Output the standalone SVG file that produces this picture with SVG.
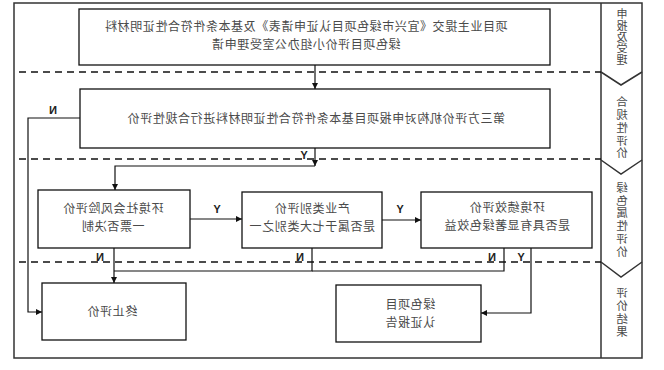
<svg xmlns="http://www.w3.org/2000/svg" width="664" height="370" viewBox="0 0 664 370">
<style>
.frame{fill:none;stroke:#333;stroke-width:1.5}
.box{fill:#fff;stroke:#111;stroke-width:1.3}
.dash{fill:none;stroke:#111;stroke-width:1.6;stroke-dasharray:7 5}
.con{fill:none;stroke:#111;stroke-width:1.2}
.t{font-family:"Noto Sans CJK SC","Noto Sans",sans-serif;font-size:12px;letter-spacing:0.6px;fill:#4a4a4a;text-anchor:middle}
.s{font-family:"Noto Sans CJK SC","Noto Sans",sans-serif;font-size:11.5px;fill:#4a4a4a;text-anchor:middle;writing-mode:vertical-rl;letter-spacing:1.3px}
.l{font-family:"Liberation Sans",Arial,sans-serif;font-size:11px;font-weight:bold;fill:#222;text-anchor:middle}
</style>
<defs>
<marker id="ah" viewBox="0 0 6 6" refX="6" refY="3" markerWidth="6" markerHeight="6" markerUnits="userSpaceOnUse" orient="auto">
<path d="M0,0 L6,3 L0,6 Z" fill="#111"/>
</marker>
</defs>
<g id="frame">
<rect class="frame" x="14" y="3" width="628" height="355"/>
<line class="frame" x1="601" y1="3" x2="601" y2="358"/>
<polyline class="frame" points="601,72 621,85 642,72"/>
<polyline class="frame" points="601,160 621,174 642,160"/>
<polyline class="frame" points="601,262 621,277 642,262"/>
<line class="dash" x1="19" y1="72" x2="601" y2="72"/>
<line class="dash" x1="19" y1="159" x2="601" y2="159"/>
<line class="dash" x1="19" y1="262" x2="601" y2="262"/>
</g>
<g id="stages">
<g transform="matrix(-1 0 0 1 1244 0)"><text class="s" x="622" y="37" style="font-size:11px;letter-spacing:0.3px">申报及受理</text></g>
<g transform="matrix(-1 0 0 1 1244 0)"><text class="s" x="622" y="128">合规性评价</text></g>
<g transform="matrix(-1 0 0 1 1244 0)"><text class="s" x="622" y="220">绿色属性评价</text></g>
<g transform="matrix(-1 0 0 1 1244 0)"><text class="s" x="622" y="313" style="letter-spacing:1.8px">评价结果</text></g>
</g>
<g id="connectors">
<line class="con" x1="315" y1="65" x2="315" y2="89" marker-end="url(#ah)"/>
<line class="con" x1="315" y1="148" x2="315" y2="166" marker-end="url(#ah)"/>
<polyline class="con" points="315,166 115,166 115,190" marker-end="url(#ah)"/>
<polyline class="con" points="80,118 28,118 28,312 42,312" marker-end="url(#ah)"/>
<line class="con" x1="190" y1="219" x2="242" y2="219" marker-end="url(#ah)"/>
<line class="con" x1="382" y1="220" x2="421" y2="220" marker-end="url(#ah)"/>
<line class="con" x1="114" y1="248" x2="114" y2="283" marker-end="url(#ah)"/>
<polyline class="con" points="312,248 312,271 114,271"/>
<polyline class="con" points="504,248 504,271 312,271"/>
<polyline class="con" points="531,248 531,313 481,313" marker-end="url(#ah)"/>
<g transform="matrix(-1 0 0 1 608 0)"><text class="l" x="304" y="159">Y</text></g>
<g transform="matrix(-1 0 0 1 106 0)"><text class="l" x="53" y="114">N</text></g>
<g transform="matrix(-1 0 0 1 434 0)"><text class="l" x="217" y="213">Y</text></g>
<g transform="matrix(-1 0 0 1 800 0)"><text class="l" x="400" y="213">Y</text></g>
<g transform="matrix(-1 0 0 1 200 0)"><text class="l" x="100" y="261">N</text></g>
<g transform="matrix(-1 0 0 1 600 0)"><text class="l" x="300" y="261">N</text></g>
<g transform="matrix(-1 0 0 1 984 0)"><text class="l" x="492" y="261">N</text></g>
<g transform="matrix(-1 0 0 1 1042 0)"><text class="l" x="521" y="261">Y</text></g>
</g>
<g id="n1">
<rect class="box" x="79" y="9" width="471" height="56"/>
<g transform="matrix(-1 0 0 1 612 0)"><text class="t" x="306" y="31">项目业主提交《宜兴市绿色项目认证申请表》及基本条件符合性证明材料</text><text class="t" x="306" y="48.5">绿色项目评价小组办公室受理申请</text></g>
</g>
<g id="n2">
<rect class="box" x="80" y="89" width="470" height="59"/>
<g transform="matrix(-1 0 0 1 632 0)"><text class="t" x="316" y="123">第三方评价机构对申报项目基本条件符合性证明材料进行合规性评价</text></g>
</g>
<g id="n3">
<rect class="box" x="38" y="190" width="152" height="58"/>
<g transform="matrix(-1 0 0 1 226 0)"><text class="t" x="113" y="213">环境社会风险评价</text><text class="t" x="113" y="230.5">一票否决制</text></g>
</g>
<g id="n4">
<rect class="box" x="242" y="192" width="140" height="56"/>
<g transform="matrix(-1 0 0 1 624 0)"><text class="t" x="312" y="213">产业类别评价</text><text class="t" x="312" y="230.5">是否属于七大类别之一</text></g>
</g>
<g id="n5">
<rect class="box" x="421" y="192" width="171" height="56"/>
<g transform="matrix(-1 0 0 1 1014 0)"><text class="t" x="507" y="212">环境绩效评价</text><text class="t" x="507" y="229.5">是否具有显著绿色效益</text></g>
</g>
<g id="n6">
<rect class="box" x="42" y="283" width="144" height="57"/>
<g transform="matrix(-1 0 0 1 224 0)"><text class="t" x="112" y="316">终止评价</text></g>
</g>
<g id="n7">
<rect class="box" x="336" y="285" width="145" height="57"/>
<g transform="matrix(-1 0 0 1 820 0)"><text class="t" x="410" y="309">绿色项目</text><text class="t" x="410" y="326.5">认证报告</text></g>
</g>
</svg>
